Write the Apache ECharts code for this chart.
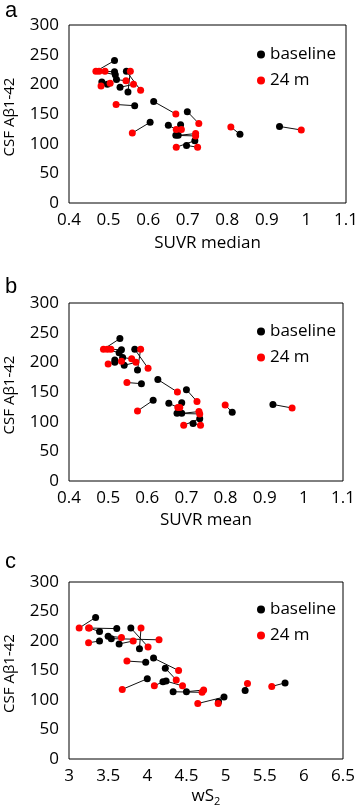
<!DOCTYPE html>
<html>
<head>
<meta charset="utf-8">
<script src="https://cdn.jsdelivr.net/npm/echarts@6/dist/echarts.min.js"></script>
<style>
  html, body { margin: 0; padding: 0; background: #fff; }
  #chart { width: 358px; height: 811px; }
</style>
</head>
<body>
<div id="chart"></div>
<script>
// CSF Abeta1-42 per subject (baseline / 24 months)
const csfBaseline = [240, 221, 216, 222, 187, 208, 204, 200, 195, 164, 171, 154, 136, 131, 132, 114, 114, 105, 97, 116, 129];
const csf24m      = [222, 222, 222, 190, 222, 206, 202, 197, 200, 166, 150, 134, 118, 124, 124, 113, 117, 94, 94, 128, 123];

// x values, same subject order
const medianBaseline = [0.515, 0.515, 0.517, 0.545, 0.549, 0.520, 0.483, 0.497, 0.529, 0.566, 0.614, 0.699, 0.605, 0.651, 0.682, 0.670, 0.676, 0.718, 0.697, 0.832, 0.932];
const median24m      = [0.468, 0.491, 0.476, 0.581, 0.555, 0.544, 0.504, 0.481, 0.563, 0.519, 0.670, 0.728, 0.560, 0.671, 0.684, 0.720, 0.720, 0.671, 0.725, 0.809, 0.987];
const meanBaseline   = [0.530, 0.534, 0.528, 0.568, 0.575, 0.537, 0.517, 0.517, 0.541, 0.585, 0.627, 0.700, 0.615, 0.655, 0.688, 0.676, 0.688, 0.734, 0.717, 0.817, 0.921];
const mean24m        = [0.488, 0.507, 0.498, 0.602, 0.583, 0.560, 0.534, 0.500, 0.571, 0.548, 0.677, 0.727, 0.575, 0.678, 0.683, 0.734, 0.732, 0.693, 0.736, 0.799, 0.970];
const ws2Baseline    = [3.34, 3.61, 3.39, 3.79, 3.90, 3.50, 3.54, 3.39, 3.64, 3.98, 4.08, 4.23, 4.00, 4.20, 4.24, 4.33, 4.50, 4.98, 4.91, 5.25, 5.76];
const ws2_24m        = [3.13, 3.25, 3.26, 4.01, 3.92, 3.67, 4.15, 3.25, 3.82, 3.74, 4.40, 4.37, 3.68, 4.09, 4.45, 4.70, 4.72, 4.645, 4.905, 5.28, 5.59];

// tick labels
const suvrTicks = [0.4, 0.5, 0.6, 0.7, 0.8, 0.9, 1, 1.1];
const ws2Ticks  = [3, 3.5, 4, 4.5, 5, 5.5, 6, 6.5];
const csfTicks  = [0, 50, 100, 150, 200, 250, 300];

const legendNames = ['baseline', '24 m'];
const FONT = 'Open Sans';

const panels = [
    { letter: 'a', xName: 'SUVR median', xb: medianBaseline, x24: median24m, ticks: suvrTicks,
      grid: { left: 69, top: 25, width: 277, height: 178 }, nameGap: 32, legendTop: 41, letterY: 0 },
    { letter: 'b', xName: 'SUVR mean', xb: meanBaseline, x24: mean24m, ticks: suvrTicks,
      grid: { left: 69, top: 303, width: 274, height: 178 }, nameGap: 31, legendTop: 318, letterY: 276 },
    { letter: 'c', xName: 'wS{sub|2}', xb: ws2Baseline, x24: ws2_24m, ticks: ws2Ticks,
      grid: { left: 69, top: 582, width: 274, height: 177 }, nameGap: 27, legendTop: 596, letterY: 551 }
];

const chart = echarts.init(document.getElementById('chart'), null, { renderer: 'canvas' });

const option = {
    backgroundColor: '#fff',
    animation: false,
    textStyle: { fontFamily: FONT, color: '#000' },
    grid: [],
    xAxis: [],
    yAxis: [],
    legend: [],
    series: [],
    graphic: []
};

panels.forEach((p, i) => {
    option.grid.push(Object.assign({
        show: true, borderColor: '#000', borderWidth: 1, backgroundColor: 'transparent',
        containLabel: false, outerBoundsMode: 'none'
    }, p.grid));

    const step = p.ticks[1] - p.ticks[0];
    option.xAxis.push({
        type: 'value', gridIndex: i,
        min: p.ticks[0], max: p.ticks[p.ticks.length - 1], interval: step,
        name: p.xName, nameLocation: 'middle', nameGap: p.nameGap,
        nameTextStyle: {
            fontFamily: FONT, fontSize: 17, color: '#000',
            rich: { sub: { fontFamily: FONT, fontSize: 11, color: '#000', verticalAlign: 'bottom', padding: [10, 0, 0, 0] } }
        },
        axisLine: { show: false },
        axisTick: { show: false },
        splitLine: { show: false },
        axisLabel: {
            margin: 9, fontFamily: FONT, fontSize: 17, color: '#000',
            showMinLabel: true, showMaxLabel: true,
            formatter: v => String(+v.toFixed(2))
        }
    });
    option.yAxis.push({
        type: 'value', gridIndex: i,
        min: csfTicks[0], max: csfTicks[csfTicks.length - 1], interval: csfTicks[1] - csfTicks[0],
        axisLine: { show: false },
        axisTick: { show: false },
        splitLine: { show: false },
        axisLabel: { margin: 10, fontFamily: FONT, fontSize: 17, color: '#000' }
    });

    option.legend.push({
        data: legendNames,
        orient: 'vertical',
        left: 252, top: p.legendTop,
        icon: 'circle', itemWidth: 8, itemHeight: 8, itemGap: 9,
        textStyle: { fontFamily: FONT, fontSize: 17, color: '#000' },
        selectedMode: false
    });

    // connecting line per subject, drawn under the dots
    option.series.push({
        type: 'lines', coordinateSystem: 'cartesian2d',
        xAxisIndex: i, yAxisIndex: i, silent: true, z: 1,
        lineStyle: { color: '#111', width: 1, opacity: 1 },
        data: p.xb.map((x, k) => ({ coords: [[x, csfBaseline[k]], [p.x24[k], csf24m[k]]] }))
    });
    option.series.push({
        name: 'baseline', type: 'scatter', xAxisIndex: i, yAxisIndex: i, z: 2,
        symbolSize: 7, itemStyle: { color: '#000', opacity: 1 },
        data: p.xb.map((x, k) => [x, csfBaseline[k]])
    });
    option.series.push({
        name: '24 m', type: 'scatter', xAxisIndex: i, yAxisIndex: i, z: 3,
        symbolSize: 7, itemStyle: { color: '#ff0000', opacity: 1 },
        data: p.x24.map((x, k) => [x, csf24m[k]])
    });

    // y axis title and panel letter
    const g = p.grid;
    option.graphic.push({
        type: 'text', x: 10, y: g.top + g.height / 2 + 3, rotation: Math.PI / 2,
        style: { text: 'CSF Aβ1-42', font: '15px "' + FONT + '"', fill: '#000', textAlign: 'center', textVerticalAlign: 'middle' }
    });
    option.graphic.push({
        type: 'text', left: 5, top: p.letterY,
        style: { text: p.letter, font: '22px "Liberation Sans"', fill: '#000' }
    });
});

chart.setOption(option);
</script>
</body>
</html>
